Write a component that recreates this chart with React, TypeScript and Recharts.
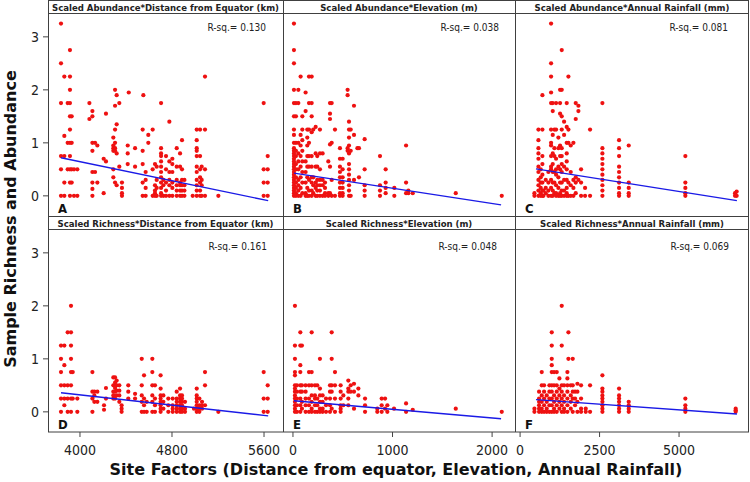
import { ScatterChart, Scatter, XAxis, YAxis } from "recharts";

// columns of points: [x, [y values at that x]]
const abundanceDistance: [number, number[]][] = [
  [3835, [3.25, 2.5, 1.75, 0.75, 0.5, 0]],
  [3864, [2.25, 1.13, 0.75, 0.25, 0]],
  [3893, [1.75, 1.0, 0.5]],
  [3913, [2.75, 2.25, 2.0, 1.75, 1.5, 1.25, 1.0, 0.75, 0.5, 0.25, 0]],
  [3928, [1.5, 1.0, 0.5, 0.25]],
  [3948, [0.5, 0]],
  [3977, [0.5, 0]],
  [4082, [1.75, 1.45]],
  [4108, [1.6, 1.5, 1.0, 0.85, 0.45, 0.25, 0.13, 0]],
  [4131, [1.0, 0.45]],
  [4151, [0.95, 0.25]],
  [4206, [0.7, 0.05]],
  [4226, [1.55, 0.65]],
  [4290, [1.1, 0.95, 0.9, 0.85, 0.5, 0.35]],
  [4305, [2.0, 1.7, 1.25, 1.0, 0.9, 0.85, 0.25]],
  [4319, [1.9, 1.35, 0.8, 0.2]],
  [4342, [1.75, 0.55]],
  [4365, [0.25, 0.15, 0.05, 0]],
  [4415, [0.95, 0.8, 0.6]],
  [4424, [1.95]],
  [4479, [0.9, 0.55]],
  [4545, [1.25, 0.85, 0.6, 0.25, 0]],
  [4551, [1.9]],
  [4571, [0.45, 0.3, 0.15, 0]],
  [4594, [1.15, 1.0]],
  [4632, [1.25, 0.5, 0]],
  [4652, [0.6, 0.2, 0.1, 0.05, 0]],
  [4667, [0.55, 0.3, 0.15, 0]],
  [4705, [1.75, 0.9, 0.8, 0.75, 0.65, 0.55, 0.45, 0.35, 0.25, 0.15, 0.05, 0]],
  [4725, [0.3, 0.2, 0]],
  [4748, [0.75, 0.5, 0.25, 0.1, 0]],
  [4777, [1.4, 0.65, 0.45, 0.3, 0.2, 0]],
  [4803, [0.7, 0.6, 0.45, 0.25, 0.15, 0]],
  [4841, [0.9, 0.55, 0.3, 0.2, 0.1, 0]],
  [4870, [0.8, 0.55, 0.25, 0.2, 0.1, 0]],
  [4887, [1.05, 0.5, 0.3, 0.2, 0.1, 0]],
  [4908, [0.3, 0.2, 0.1, 0]],
  [4980, [0]],
  [5015, [1.25, 1.05, 0.9, 0.85, 0.75, 0.55, 0.45, 0.3, 0.2, 0.1, 0]],
  [5044, [1.25, 0.75, 0.5, 0.35, 0.25, 0.1, 0]],
  [5058, [0.55, 0.3, 0.2, 0]],
  [5087, [2.25, 1.25, 0.5, 0]],
  [5203, [0]],
  [5597, [1.75, 0.5, 0.25, 0]],
  [5632, [0.75, 0.5, 0.25, 0]],
];

const abundanceElevation: [number, number[]][] = [
  [10, [3.25, 2.75, 2.5, 2.0, 1.75, 1.5, 1.25, 1.15, 1.0, 0.9, 0.85, 0.8, 0.75, 0.7, 0.65, 0.6, 0.55, 0.5, 0.45, 0.4, 0.35, 0.3, 0.25, 0.2, 0.15, 0.1, 0.05, 0]],
  [30, [1.75, 1.5, 1.0, 0.85, 0.75, 0.6, 0.5, 0.35, 0.25, 0.15, 0.05, 0]],
  [54, [2.0, 1.75, 1.0, 0.8, 0.65, 0.5, 0.3, 0.2, 0.1, 0]],
  [77, [2.25, 1.15, 0.95, 0.75, 0.55, 0.35, 0.15, 0]],
  [94, [1.5, 1.25, 1.05, 0.85, 0.65, 0.45, 0.25, 0.05]],
  [127, [1.95, 1.6, 0.65, 0.45, 0.25, 0.05, 0]],
  [144, [1.25, 1.1, 0.95, 0.75, 0.55, 0.35, 0.15, 0]],
  [161, [2.25, 1.75, 1.25, 1.0, 0.75, 0.55, 0.3, 0.1, 0]],
  [188, [2.25, 1.75, 1.5, 1.2, 0.75, 0.55, 0.35, 0.25, 0.1, 0]],
  [204, [1.25, 0.35, 0.2, 0.05]],
  [228, [1.3, 0.8, 0.55, 0.25, 0.15, 0]],
  [244, [0.75, 0.55, 0.3, 0.2, 0.1, 0]],
  [271, [1.25, 0.8, 0.5, 0.3, 0.2, 0.1, 0]],
  [298, [0.8, 0.3, 0.2, 0]],
  [322, [0.25, 0.15, 0.05, 0]],
  [355, [0.65, 0.05, 0]],
  [372, [1.75, 1.55, 1.45, 0.97, 0.55, 0.05]],
  [389, [1.75, 1.0, 0.3, 0]],
  [422, [1.25, 0]],
  [472, [0.9, 0.7, 0.55, 0.45, 0.35, 0.25, 0.15, 0.05, 0]],
  [499, [0.7, 0.5, 0.35, 0.25, 0.15, 0.05, 0]],
  [549, [2.0, 1.9, 0.9, 0.85]],
  [563, [1.4, 1.25, 1.1, 0.95, 0.8, 0.6, 0.5, 0.4, 0.3, 0.2, 0.1, 0]],
  [580, [1.25, 0.85, 0]],
  [613, [1.7, 1.15, 0.3]],
  [647, [0.9]],
  [663, [0.9, 0.35]],
  [720, [1.07, 0.5, 0.2, 0.1, 0]],
  [874, [0.75, 0.2, 0.1, 0]],
  [931, [0.5, 0.25, 0.15, 0.05]],
  [1018, [0.15, 0]],
  [1136, [0.95, 0.25, 0.05]],
  [1159, [0.1, 0.05]],
  [1203, [0.05]],
  [1635, [0.05]],
  [2097, [0]],
];

const abundanceRainfall: [number, number[]][] = [
  [451, [0.05, 0]],
  [577, [1.25, 1.05, 0.9, 0.8, 0.7, 0.55, 0.45, 0.3, 0.2, 0.1, 0]],
  [650, [0.5, 0.35, 0.25, 0.15, 0.05, 0]],
  [702, [1.9, 1.25, 0.75, 0.6, 0.4, 0.25, 0.1, 0]],
  [734, [0.1, 0]],
  [807, [0.3, 0.15, 0.05]],
  [891, [0.45, 0.25, 0.1, 0]],
  [975, [3.25, 2.5, 2.25, 1.95, 1.75, 1.25, 1.0, 0.95, 0.75, 0.55, 0.5, 0.3, 0.15, 0]],
  [1027, [1.75, 1.6, 1.15, 0.8, 0.6, 0.45, 0.25, 0.1, 0]],
  [1079, [1.25, 0.9, 0.75, 0.45, 0.25, 0.05]],
  [1132, [1.75, 1.25, 0.7, 0.5, 0.4, 0.2, 0.05, 0]],
  [1205, [1.1, 0.9, 0.55, 0.35, 0.15, 0]],
  [1258, [2.0, 1.75, 1.55, 0.95, 0.75, 0.5, 0.25, 0.05, 0]],
  [1310, [2.75, 2.0, 1.5, 1.25, 0.9, 0.75, 0.6, 0.45, 0.25, 0.1, 0]],
  [1384, [1.4, 1.15, 0.55, 0.3, 0.1, 0]],
  [1467, [1.75, 1.3, 1.0, 0.8, 0.65, 0.5, 0.3, 0.15, 0.05, 0]],
  [1520, [2.25, 1.25, 1.0, 0.25, 0]],
  [1593, [0.95, 0.45, 0.2, 0]],
  [1677, [1.0, 0.3, 0.15, 0]],
  [1750, [1.75, 1.45, 0.35, 0.25, 0.05]],
  [1834, [1.7, 1.6, 0.3]],
  [1918, [0.5, 0.25, 0]],
  [2044, [0.15, 0]],
  [2201, [1.25, 0]],
  [2589, [1.75, 0.9, 0.8, 0.7, 0.6, 0.5, 0.4, 0.3, 0.2, 0.1, 0]],
  [3113, [1.05, 0.9, 0.75, 0.55, 0.45, 0.35, 0.25, 0.15, 0.05, 0]],
  [3417, [0.95, 0.25, 0.15, 0.05, 0]],
  [5198, [0.75, 0.25, 0.15, 0.05, 0]],
  [6760, [0.05, 0]],
  [6812, [0.08, 0]],
];

const richnessDistance: [number, number[]][] = [
  [3835, [1.25, 1.0, 0.75, 0.5, 0.25, 0]],
  [3864, [1.25, 0.88, 0.5, 0.25, 0.125]],
  [3893, [1.5, 0.5, 0.25, 0]],
  [3922, [2.0, 1.5, 1.25, 1.0, 0.75, 0.5, 0.25, 0]],
  [3937, [0.75, 0.25]],
  [3977, [0.25, 0]],
  [4108, [0.75, 0.38, 0.25, 0]],
  [4125, [0.38, 0.31, 0.19]],
  [4151, [0.38, 0.19]],
  [4209, [0.125, 0.04]],
  [4226, [0.45, 0.25]],
  [4290, [0.65, 0.5, 0.38, 0.31, 0.25]],
  [4305, [0.65, 0.55, 0.45, 0.38, 0.25]],
  [4319, [0.59, 0.5, 0.4, 0.31]],
  [4342, [0.5, 0.4, 0.31, 0.19]],
  [4362, [0.125, 0.06, 0]],
  [4420, [0.5, 0.38, 0.25]],
  [4479, [0.34, 0.25]],
  [4537, [1.0, 0.5, 0.31, 0.19, 0]],
  [4557, [0.69, 0.25, 0.125, 0]],
  [4580, [0.19, 0]],
  [4629, [1.0, 0.75, 0.5, 0.31, 0.19, 0]],
  [4652, [0.5, 0.25, 0.125, 0]],
  [4701, [0.69, 0.44, 0.31, 0.25, 0.19, 0.125, 0.06, 0]],
  [4725, [0.31, 0.19, 0.06]],
  [4768, [0.25, 0.125, 0]],
  [4806, [0.25, 0.125, 0.06, 0]],
  [4841, [0.38, 0.25, 0.19, 0.125, 0.06, 0]],
  [4870, [0.44, 0.31, 0.25, 0.19, 0.125, 0.06, 0]],
  [4887, [0.31, 0.25, 0.19, 0.125, 0.06, 0]],
  [4913, [0.19, 0.06, 0]],
  [4991, [0.06]],
  [5015, [0.44, 0.31, 0.25, 0.19, 0.125, 0.06, 0]],
  [5038, [0.25, 0.125, 0.06, 0]],
  [5061, [0.19, 0.125, 0.06]],
  [5087, [0.75, 0.5, 0.125]],
  [5203, [0]],
  [5597, [0.75, 0.25, 0]],
  [5632, [0.5, 0.25, 0]],
];

const richnessElevation: [number, number[]][] = [
  [20, [2.0, 1.25, 1.0, 0.75, 0.69, 0.5, 0.44, 0.38, 0.31, 0.25, 0.19, 0.125, 0.06, 0]],
  [40, [0.5, 0.38, 0.25, 0.125, 0]],
  [74, [1.5, 1.25, 0.88, 0.75, 0.5, 0.38, 0.25, 0.125, 0]],
  [90, [1.25, 0.5, 0.38, 0.19, 0.06]],
  [127, [0.5, 0.38, 0.25, 0.125, 0]],
  [161, [0.75, 0.5, 0.25, 0.125, 0]],
  [188, [1.5, 0.75, 0.5, 0.31, 0.19, 0.06, 0]],
  [221, [0.5, 0.31, 0.25, 0.125, 0]],
  [244, [0.5, 0.25, 0.125, 0]],
  [271, [1.0, 0.44, 0.31, 0.19, 0.06, 0]],
  [298, [0.31, 0.19, 0.06, 0]],
  [332, [0.25, 0.125, 0]],
  [372, [0.5, 0.38, 0.25, 0.125, 0]],
  [389, [1.5, 1.0, 0.5, 0.38, 0.06]],
  [422, [0.75, 0.5, 0.25, 0]],
  [479, [0.5, 0.38, 0.25, 0.125, 0.06, 0]],
  [506, [0.31, 0.125]],
  [556, [0.59, 0.44, 0.38, 0.25, 0.125]],
  [580, [0.5, 0.38]],
  [613, [0.53, 0.38, 0.06]],
  [657, [0.44, 0.31]],
  [724, [0.25, 0.125, 0]],
  [847, [0.06, 0]],
  [891, [0.25, 0.125, 0]],
  [925, [0.25, 0.06]],
  [948, [0.125, 0]],
  [1015, [0.06]],
  [1136, [0.16, 0]],
  [1203, [0.04]],
  [1635, [0.06]],
  [2097, [0]],
];

const richnessRainfall: [number, number[]][] = [
  [451, [0.06, 0]],
  [597, [0.38, 0.25, 0.19, 0.125, 0.06, 0]],
  [681, [0.75, 0.5, 0.31, 0.19, 0.06, 0]],
  [755, [0.5, 0.38, 0.25, 0.125, 0]],
  [838, [0.31, 0.19, 0.06, 0]],
  [922, [0.5, 0.38, 0.25, 0.125, 0]],
  [996, [1.5, 1.25, 1.0, 0.88, 0.75, 0.5, 0.38, 0.25, 0.125, 0]],
  [1069, [0.75, 0.5, 0.31, 0.19, 0.06, 0]],
  [1153, [0.75, 0.5, 0.38, 0.25, 0.125, 0]],
  [1237, [0.63, 0.44, 0.31, 0.19, 0.06]],
  [1310, [2.0, 1.25, 0.5, 0.38, 0.25, 0.125, 0]],
  [1384, [0.5, 0.31, 0.19, 0.06, 0]],
  [1488, [0.75, 0.63, 0.5, 0.38, 0.25, 0.125, 0]],
  [1520, [1.5, 1.0]],
  [1593, [0.5, 0.31, 0.19, 0.06]],
  [1656, [1.0, 0.5, 0.38, 0.25, 0]],
  [1729, [0.38, 0.25, 0.125]],
  [1803, [0.53, 0.38, 0.19, 0]],
  [1918, [0.5, 0.25, 0.06, 0]],
  [2065, [0.06, 0]],
  [2201, [0.5, 0]],
  [2589, [0.69, 0.44, 0.38, 0.31, 0.25, 0.19, 0.125, 0.06, 0]],
  [3113, [0.44, 0.31, 0.25, 0.19, 0.125, 0.06, 0]],
  [3417, [0.19, 0.125, 0.06, 0]],
  [5198, [0.25, 0.125, 0.06, 0]],
  [6781, [0.06, 0.03, 0]],
];

// fitted line end points [x, y]
const fitA = [[3835, 0.72], [5636, -0.09]];
const fitB = [[10, 0.43], [2090, -0.17]];
const fitC = [[500, 0.51], [6820, -0.09]];
const fitD = [[3835, 0.36], [5636, -0.075]];
const fitE = [[10, 0.21], [2090, -0.13]];
const fitF = [[500, 0.23], [6820, -0.04]];

const titles = [
  "Scaled Abundance*Distance from Equator (km)",
  "Scaled Abundance*Elevation (m)",
  "Scaled Abundance*Annual Rainfall (mm)",
  "Scaled Richness*Distance from Equator (km)",
  "Scaled Richness*Elevation (m)",
  "Scaled Richness*Annual Rainfall (mm)",
];
const rsq = ["0.130", "0.038", "0.081", "0.161", "0.048", "0.069"];
const letters = ["A", "B", "C", "D", "E", "F"];

const xDomains: [number, number][] = [[3722, 5765], [-100, 2230], [-160, 7200]];
const xTicks = [[4000, 4800, 5600], [0, 1000, 2000], [0, 2500, 5000]];
const yDomain: [number, number] = [-0.38, 3.45];
const yTicks = [0, 1, 2, 3];

const FONT = "'DejaVu Sans Condensed', 'DejaVu Sans', sans-serif";
const colX = [48, 283, 515, 749];
const rowY = [13, 229];
const plotH = 203;

const toPoints = (cols: [number, number[]][]) =>
  cols.flatMap(([x, ys]) => ys.map((y) => ({ x, y })));

const panels = [
  abundanceDistance, abundanceElevation, abundanceRainfall,
  richnessDistance, richnessElevation, richnessRainfall,
].map(toPoints);
const fits = [fitA, fitB, fitC, fitD, fitE, fitF].map((f) => f.map(([x, y]) => ({ x, y })));

const rsqRight = [266, 499, 728, 267, 497, 729];

const Dot = (p: any) => <circle cx={p.cx} cy={p.cy} r={2.1} fill="#ee1111" />;

function Panel({ i }: { i: number }) {
  const c = i % 3;
  const r = Math.floor(i / 3);
  const left = c === 0 ? 0 : colX[c];
  const width = colX[c + 1] - left;
  const height = plotH + (r === 1 ? 50 : 0);
  return (
    <div style={{ position: "absolute", left, top: rowY[r], width, height }}>
      <ScatterChart width={width} height={height} margin={{ top: 0, right: 0, bottom: 0, left: 0 }}>
        <XAxis
          type="number"
          dataKey="x"
          domain={xDomains[c]}
          allowDataOverflow
          ticks={xTicks[c]}
          hide={r === 0}
          height={50}
          axisLine={false}
          tickSize={5}
          tickMargin={8}
          tickLine={{ stroke: "#444" }}
          tick={{ fontSize: 14, fill: "#222", fontFamily: FONT }}
        />
        <YAxis
          type="number"
          dataKey="y"
          domain={yDomain}
          allowDataOverflow
          ticks={yTicks}
          hide={c !== 0}
          width={48}
          axisLine={false}
          tickSize={5}
          tickMargin={4}
          tickLine={{ stroke: "#444" }}
          tick={{ fontSize: 14, fill: "#222", fontFamily: FONT }}
        />
        <Scatter data={panels[i]} shape={Dot} isAnimationActive={false} />
        <Scatter
          data={fits[i]}
          line={{ stroke: "#1a1ae6", strokeWidth: 1.4 }}
          shape={() => <g />}
          isAnimationActive={false}
        />
      </ScatterChart>
    </div>
  );
}

export default function App() {
  return (
    <div style={{ position: "absolute", left: 0, top: 0, width: 750, height: 482, background: "#fff" }}>
      {[0, 1, 2, 3, 4, 5].map((i) => (
        <Panel key={i} i={i} />
      ))}
      <svg width={750} height={482} style={{ position: "absolute", left: 0, top: 0, pointerEvents: "none" }}>
        <g stroke="#404040" strokeWidth={1} fill="none">
          <rect x={48.5} y={0.5} width={700} height={431.5} />
          <line x1={283.5} y1={0} x2={283.5} y2={432} />
          <line x1={515.5} y1={0} x2={515.5} y2={432} />
          <line x1={48} y1={13.5} x2={749} y2={13.5} />
          <line x1={48} y1={216.5} x2={749} y2={216.5} />
          <line x1={48} y1={229.5} x2={749} y2={229.5} />
        </g>
        {titles.map((t, i) => {
          const c = i % 3;
          const r = Math.floor(i / 3);
          const cx = (colX[c] + colX[c + 1]) / 2;
          const cy = r === 0 ? 7 : 223;
          return (
            <text key={t} x={cx} y={cy + 3.5} textAnchor="middle" fontFamily={FONT} fontWeight="bold" fontSize={9.5} fill="#222">
              {t}
            </text>
          );
        })}
        {rsq.map((v, i) => {
          const r = Math.floor(i / 3);
          return (
            <text key={i} x={rsqRight[i]} y={r === 0 ? 31 : 250} textAnchor="end" fontFamily={FONT} fontSize={10} fill="#222">
              {`R-sq.= ${v}`}
            </text>
          );
        })}
        {letters.map((l, i) => {
          const c = i % 3;
          const r = Math.floor(i / 3);
          return (
            <text key={l} x={colX[c] + 10} y={rowY[r] + plotH - 3} fontFamily={FONT} fontWeight="bold" fontSize={13} fill="#111">
              {l}
            </text>
          );
        })}
        <text x={0} y={0} transform="translate(16,219) rotate(-90)" textAnchor="middle" fontFamily="'DejaVu Sans', sans-serif" fontWeight="bold" fontSize={16} fill="#111">
          Sample Richness and Abundance
        </text>
        <text x={396} y={475} textAnchor="middle" fontFamily="'DejaVu Sans', sans-serif" fontWeight="bold" fontSize={16} fill="#111">
          Site Factors (Distance from equator, Elevation, Annual Rainfall)
        </text>
      </svg>
    </div>
  );
}
